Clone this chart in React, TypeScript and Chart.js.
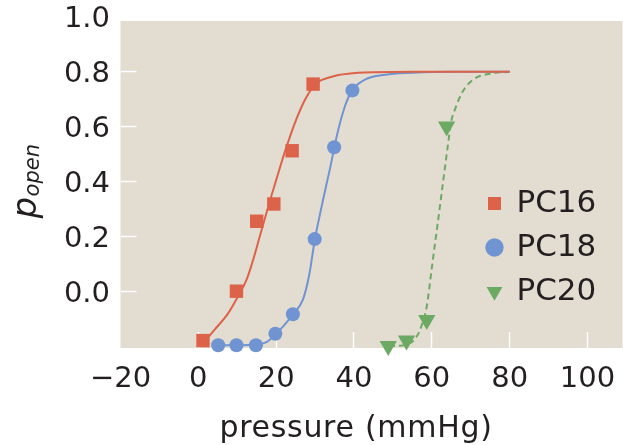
import React, { useEffect, useRef } from 'react';
import { Chart, registerables } from 'chart.js';

Chart.register(...registerables);

// Measured points
const pc16X = [1.2, 9.8, 15, 19.4, 24.1, 29.5];
const pc16Y = [-0.18, 0.0, 0.255, 0.318, 0.512, 0.755];
const pc18X = [5.1, 9.8, 14.8, 19.8, 24.3, 29.9, 34.9, 39.6];
const pc18Y = [-0.197, -0.197, -0.197, -0.155, -0.084, 0.19, 0.525, 0.732];
const pc20X = [48.8, 53.5, 58.7, 63.8];
const pc20Y = [-0.2, -0.18, -0.105, 0.6];

// Fitted curves
const fit16X = [1.5, 4.2, 7.7, 10.2, 12.4, 14.1, 15.8, 17.1, 18.4, 20, 21, 22.4, 24.8, 27.4, 29.5, 31, 33.4, 36, 38.5, 45, 55, 80];
const fit16Y = [-0.185, -0.14, -0.08, -0.019, 0.042, 0.115, 0.2, 0.265, 0.33, 0.405, 0.452, 0.515, 0.613, 0.698, 0.745, 0.765, 0.778, 0.788, 0.793, 0.798, 0.8, 0.8];
const fit18X = [5, 10, 15, 17.5, 19.8, 22.2, 24.3, 26.9, 28.5, 29.9, 30.8, 32, 33.8, 34.9, 35.9, 37.7, 39.5, 42.8, 48, 55, 65, 80];
const fit18Y = [-0.197, -0.197, -0.194, -0.186, -0.158, -0.122, -0.084, -0.03, 0.06, 0.185, 0.25, 0.33, 0.445, 0.52, 0.585, 0.675, 0.732, 0.771, 0.789, 0.796, 0.8, 0.8];
const fit20X = [49, 51.5, 54, 56, 57.5, 58.7, 60, 61, 62, 63, 64.2, 65, 66, 67.7, 70.5, 75, 80];
const fit20Y = [-0.2, -0.199, -0.192, -0.168, -0.12, -0.055, 0.085, 0.193, 0.3, 0.41, 0.54, 0.62, 0.665, 0.722, 0.77, 0.793, 0.8];

const seriesLabels = ['PC16', 'PC18', 'PC20'];
const xTicks = [-20, 0, 20, 40, 60, 80, 100];
const yTicks = [0, 0.2, 0.4, 0.6, 0.8, 1.0];
const xTitle = 'pressure (mmHg)';
const yTitleMain = 'p';
const yTitleSub = 'open';

const RED = '#dc634a';
const BLUE = '#7093d2';
const GREEN = '#6caa64';
const TEXT = '#231f20';
const BG = '#e3ddd1';
const FONT = '"DejaVu Sans"';

const toXY = (xs: number[], ys: number[]) => xs.map((x, i) => ({ x, y: ys[i] }));

const bgPlugin = {
  id: 'bgPlugin',
  beforeDraw(chart: any) {
    const { ctx, chartArea: a } = chart;
    ctx.save();
    ctx.fillStyle = BG;
    ctx.fillRect(a.left, a.top, a.right - a.left, a.bottom - a.top);
    ctx.restore();
  },
};

const legendPos = {
  id: 'legendPos',
  afterLayout(chart: any) {
    const l = chart.legend;
    if (!l) return;
    l.left = 475;
    l.top = 175;
    l.right = 623;
    l.bottom = 445;
    l.width = l.right - l.left;
    l.height = l.bottom - l.top;
  },
};

const titlesPlugin = {
  id: 'titlesPlugin',
  afterDraw(chart: any) {
    const { ctx } = chart;
    ctx.save();
    ctx.fillStyle = TEXT;
    ctx.font = `30px ${FONT}`;
    ctx.textAlign = 'center';
    ctx.textBaseline = 'alphabetic';
    try { (ctx as any).letterSpacing = '0.7px'; } catch (e) {}
    ctx.fillText(xTitle, 356, 437);
    try { (ctx as any).letterSpacing = '0px'; } catch (e) {}
    ctx.translate(36, 218.5);
    ctx.rotate(-Math.PI / 2);
    ctx.textAlign = 'left';
    ctx.font = `italic 34px ${FONT}`;
    ctx.fillText(yTitleMain, 0, 0);
    const w = ctx.measureText(yTitleMain).width;
    ctx.font = `italic 21px ${FONT}`;
    ctx.fillText(yTitleSub, w + 0.5, 2.6);
    ctx.restore();
  },
};

export default function App() {
  const ref = useRef<HTMLCanvasElement | null>(null);

  useEffect(() => {
    document.body.style.margin = '0';
    const canvas = ref.current;
    if (!canvas) return;

    const markerCommon = { showLine: false, pointBorderWidth: 0, clip: false as any };
    const lineCommon = {
      showLine: true,
      pointRadius: 0,
      borderWidth: 2,
      cubicInterpolationMode: 'monotone' as const,
      fill: false,
    };

    const chart = new Chart(canvas, {
      type: 'scatter',
      data: {
        datasets: [
          { ...markerCommon, label: seriesLabels[0], data: toXY(pc16X, pc16Y), backgroundColor: RED, borderColor: RED, pointStyle: 'rect', pointRadius: 9.5 },
          { ...markerCommon, label: seriesLabels[1], data: toXY(pc18X, pc18Y), backgroundColor: BLUE, borderColor: BLUE, pointStyle: 'circle', pointRadius: 7 },
          { ...markerCommon, label: seriesLabels[2], data: toXY(pc20X, pc20Y), backgroundColor: GREEN, borderColor: GREEN, pointStyle: 'triangle', pointRotation: 180, pointRadius: 10 },
          { ...lineCommon, label: 'fit16', data: toXY(fit16X, fit16Y), borderColor: RED, backgroundColor: RED },
          { ...lineCommon, label: 'fit18', data: toXY(fit18X, fit18Y), borderColor: BLUE, backgroundColor: BLUE },
          { ...lineCommon, label: 'fit20', data: toXY(fit20X, fit20Y), borderColor: GREEN, backgroundColor: GREEN, borderDash: [6, 4] },
        ] as any,
      },
      options: {
        responsive: false,
        animation: false,
        events: [],
        layout: { autoPadding: false, padding: { left: 0, right: 0.5, top: 21, bottom: 0 } },
        plugins: {
          tooltip: { enabled: false },
          legend: {
            display: true,
            position: 'chartArea' as any,
            align: 'start',
            labels: {
              usePointStyle: true,
              boxWidth: 13,
              boxHeight: 13,
              padding: 13,
              color: TEXT,
              font: { family: FONT, size: 31 },
              filter: (item: any) => item.datasetIndex < 3,
            },
          },
        },
        scales: {
          x: {
            type: 'linear',
            min: -20,
            max: 109,
            afterBuildTicks: (s: any) => { s.ticks = xTicks.map((v) => ({ value: v })); },
            afterFit: (s: any) => { s.height = 97; s.paddingLeft = 0; s.paddingRight = 0; },
            border: { display: false },
            grid: {
              drawOnChartArea: false,
              drawTicks: true,
              tickLength: -16,
              tickWidth: 1.5,
              tickColor: (c: any) => (c.tick && c.tick.value === -20 ? 'rgba(0,0,0,0)' : '#ffffff'),
            },
            ticks: {
              autoSkip: false,
              maxRotation: 0,
              padding: 30,
              color: TEXT,
              font: { family: FONT, size: 29 },
              callback: (v: any) => (Number(v) < 0 ? '\u2212' + Math.abs(Number(v)) : String(v)),
            },
          },
          y: {
            type: 'linear',
            min: -0.207,
            max: 0.985,
            afterBuildTicks: (s: any) => { s.ticks = yTicks.map((v) => ({ value: v })); },
            afterFit: (s: any) => { s.width = 120.5; s.paddingTop = 0; s.paddingBottom = 0; },
            border: { display: false },
            grid: {
              drawOnChartArea: false,
              drawTicks: true,
              tickLength: -16,
              tickWidth: 1.5,
              tickColor: (c: any) => (c.tick && c.tick.value >= 1 ? 'rgba(0,0,0,0)' : '#ffffff'),
            },
            ticks: {
              autoSkip: false,
              padding: 26.5,
              labelOffset: 3,
              color: TEXT,
              font: { family: FONT, size: 29 },
              callback: (v: any) => Number(v).toFixed(1),
            },
          },
        },
      },
      plugins: [bgPlugin, legendPos, titlesPlugin],
    });

    return () => chart.destroy();
  }, []);

  return (
    <div style={{ width: 623, height: 445 }}>
      <canvas ref={ref} width={623} height={445} style={{ display: 'block' }} />
    </div>
  );
}
